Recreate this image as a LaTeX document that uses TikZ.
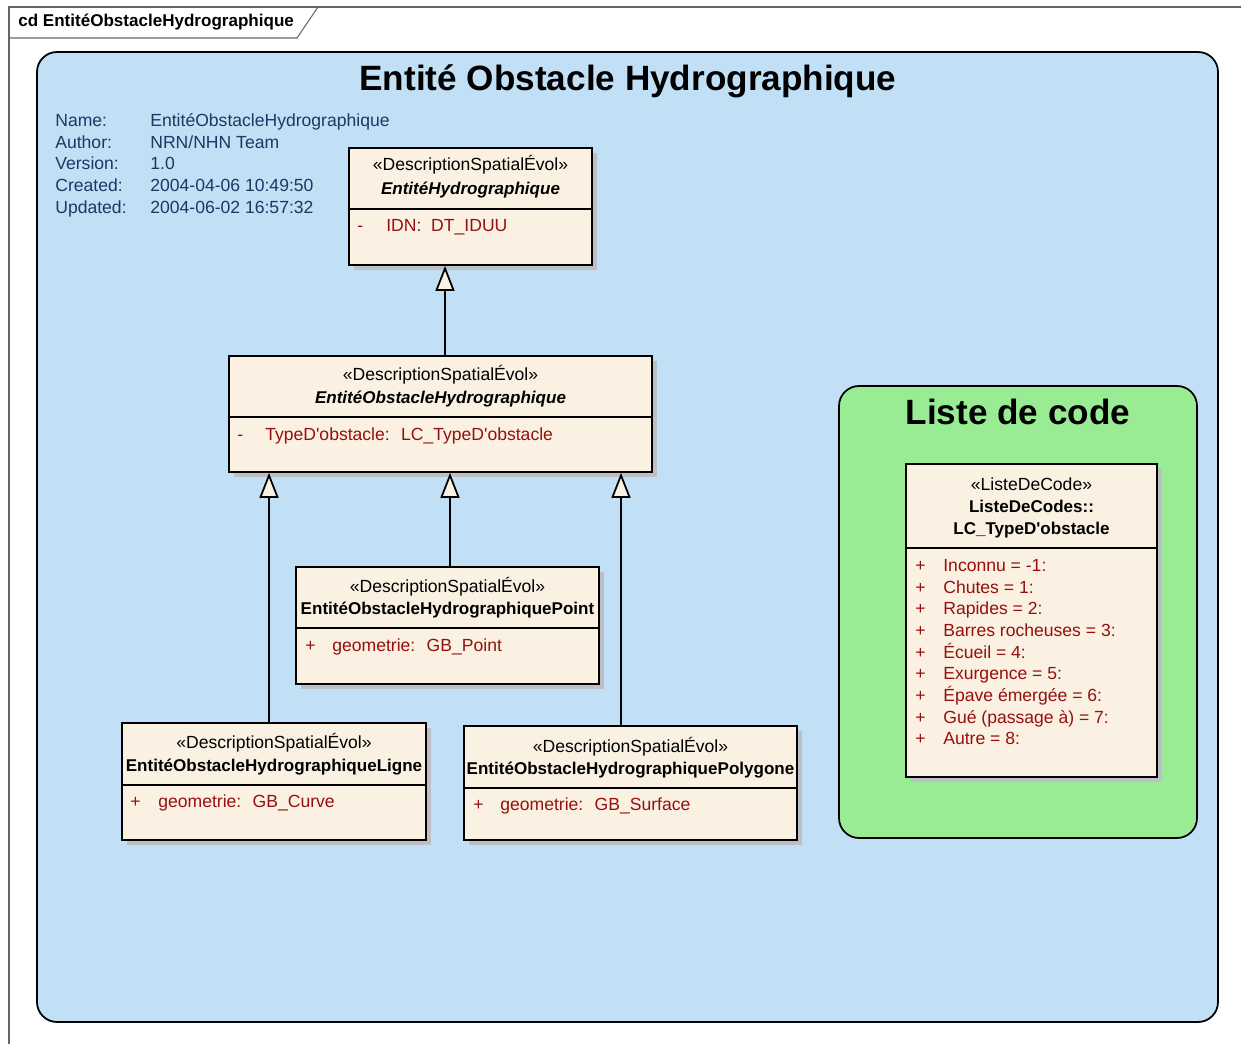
\documentclass[tikz,border=0pt]{standalone}
\usepackage{fontspec}
\setmainfont{Liberation Sans}
\usetikzlibrary{arrows.meta,fit,shadows}
\definecolor{pkgblue}{RGB}{193,223,245}
\definecolor{pkggreen}{RGB}{153,236,147}
\definecolor{classfill}{RGB}{251,241,226}
\definecolor{attrred}{RGB}{150,15,15}
\definecolor{infoblue}{RGB}{30,55,100}
\definecolor{shadowgray}{RGB}{190,190,198}
\def\umlsize{\fontsize{10}{12}\selectfont}
\def\umlbold{\fontsize{9.7}{12}\selectfont\bfseries}
\tikzset{
	every node/.style={inner sep=0pt, font=\umlsize},
	frameline/.style={line width=0.6pt, color=black!60},
	pkgbox/.style={line width=1pt, rounded corners=0.4cm},
	pkgtitle/.style={anchor=base, font=\fontsize{20}{24}\selectfont\bfseries},
	classbox/.style={draw, line width=1pt, fill=classfill, drop shadow={shadow xshift=0.1cm, shadow yshift=-0.1cm, fill=shadowgray, opacity=1}},
	classline/.style={line width=1pt},
	stereo/.style={anchor=base},
	cname/.style={anchor=base, font=\umlbold},
	attr/.style={anchor=base west, color=attrred},
	info/.style={anchor=base west, color=infoblue},
	genline/.style={line width=1pt, -{Triangle[fill=classfill, length=0.5cm, width=0.38cm]}}
}

\begin{document}
\begin{tikzpicture}[x=0.02cm, y=-0.02cm]
			%%%%% START %%%%%
			\useasboundingbox (0,0) rectangle (1241,1044);
			
			\draw[frameline] (9,1044) -- (9,7) -- (1241,7);
			\draw[frameline] (9,38) -- (297,38) -- (318,7);
			\node[anchor=base west, font=\umlbold] (tab) at (18,27) {cd EntitéObstacleHydrographique};
			
			\draw[pkgbox, fill=pkgblue] (37,52) rectangle (1218,1022);
			\node[pkgtitle] (bluetitle) at (628,91) {Entité Obstacle Hydrographique};
			
			\node[info] (namek) at (55,127) {Name:};
			\node[info] (namev) at (150,127) {EntitéObstacleHydrographique};
			\node[info] (authork) at (55,148.5) {Author:};
			\node[info] (authorv) at (150,148.5) {NRN/NHN Team};
			\node[info] (versionk) at (55,170) {Version:};
			\node[info] (versionv) at (150,170) {1.0};
			\node[info] (createdk) at (55,192) {Created:};
			\node[info] (createdv) at (150,192) {2004-04-06 10:49:50};
			\node[info] (updatedk) at (55,213.5) {Updated:};
			\node[info] (updatedv) at (150,213.5) {2004-06-02 16:57:32};
			
			\draw[pkgbox, fill=pkggreen] (839,386) rectangle (1197,838);
			\node[pkgtitle] (greentitle) at (1018,424) {Liste de code};
			
			% EntiteHydrographique
			\node[classbox, fit={(349,148) (592,265)}] (hydro) {};
			\draw[classline] (hydro.west |- 0,209) -- (hydro.east |- 0,209);
			\node[stereo] (hydrost) at (470.5,171) {«DescriptionSpatialÉvol»};
			\node[cname, font=\umlbold\itshape] (hydronm) at (470.5,195) {EntitéHydrographique};
			\node[attr] (hydrovis) at (357,232) {-};
			\node[attr] (hydroat) at (386,232) {IDN:~ DT\_IDUU};
			
			% EntiteObstacleHydrographique
			\node[classbox, fit={(229,356) (652,472)}] (obst) {};
			\draw[classline] (obst.west |- 0,417) -- (obst.east |- 0,417);
			\node[stereo] (obstst) at (440.5,380) {«DescriptionSpatialÉvol»};
			\node[cname, font=\umlbold\itshape] (obstnm) at (440.5,403) {EntitéObstacleHydrographique};
			\node[attr] (obstvis) at (237,440) {-};
			\node[attr] (obstat) at (265,440) {TypeD\textquotesingle obstacle:~ LC\_TypeD\textquotesingle obstacle};
			
			% Point
			\node[classbox, fit={(296,567) (599,684)}] (point) {};
			\draw[classline] (point.west |- 0,628) -- (point.east |- 0,628);
			\node[stereo] (pointst) at (447.5,592) {«DescriptionSpatialÉvol»};
			\node[cname] (pointnm) at (447.5,614) {EntitéObstacleHydrographiquePoint};
			\node[attr] (pointvis) at (305,651) {+};
			\node[attr] (pointat) at (332,651) {geometrie:~ GB\_Point};
			
			% Ligne
			\node[classbox, fit={(122,723) (426,840)}] (ligne) {};
			\draw[classline] (ligne.west |- 0,785) -- (ligne.east |- 0,785);
			\node[stereo] (lignest) at (274,748) {«DescriptionSpatialÉvol»};
			\node[cname] (lignenm) at (274,771) {EntitéObstacleHydrographiqueLigne};
			\node[attr] (lignevis) at (130,807) {+};
			\node[attr] (ligneat) at (158,807) {geometrie:~ GB\_Curve};
			
			% Polygone
			\node[classbox, fit={(464,726) (797,840)}] (poly) {};
			\draw[classline] (poly.west |- 0,788) -- (poly.east |- 0,788);
			\node[stereo] (polyst) at (630.5,752) {«DescriptionSpatialÉvol»};
			\node[cname] (polynm) at (630.5,774) {EntitéObstacleHydrographiquePolygone};
			\node[attr] (polyvis) at (473,810) {+};
			\node[attr] (polyat) at (500,810) {geometrie:~ GB\_Surface};
			
			% LC_TypeD'obstacle
			\node[classbox, fit={(906,464) (1157,777)}] (lc) {};
			\draw[classline] (lc.west |- 0,548) -- (lc.east |- 0,548);
			\node[stereo] (lcst) at (1031.5,490) {«ListeDeCode»};
			\node[cname] (lcnma) at (1031.5,512) {ListeDeCodes::};
			\node[cname] (lcnmb) at (1031.5,534) {LC\_TypeD\textquotesingle obstacle};
			\foreach \val [count=\i] in {Inconnu = -1:, Chutes = 1:, Rapides = 2:, Barres rocheuses = 3:, Écueil = 4:, Exurgence = 5:, Épave émergée = 6:, Gué (passage à) = 7:, Autre = 8:} {
				\node[attr] (lcvis\i) at (915,550+21.66*\i) {+};
				\node[attr] (lcat\i) at (943,550+21.66*\i) {\val};
			}
			
			\draw[genline] (obst.north -| 445,0) -- (hydro.south -| 445,0);
			\draw[genline] (ligne.north -| 269,0) -- (obst.south -| 269,0);
			\draw[genline] (point.north -| 450,0) -- (obst.south -| 450,0);
			\draw[genline] (poly.north -| 621,0) -- (obst.south -| 621,0);
			
			%%%%% END %%%%%
\end{tikzpicture}
\end{document}
